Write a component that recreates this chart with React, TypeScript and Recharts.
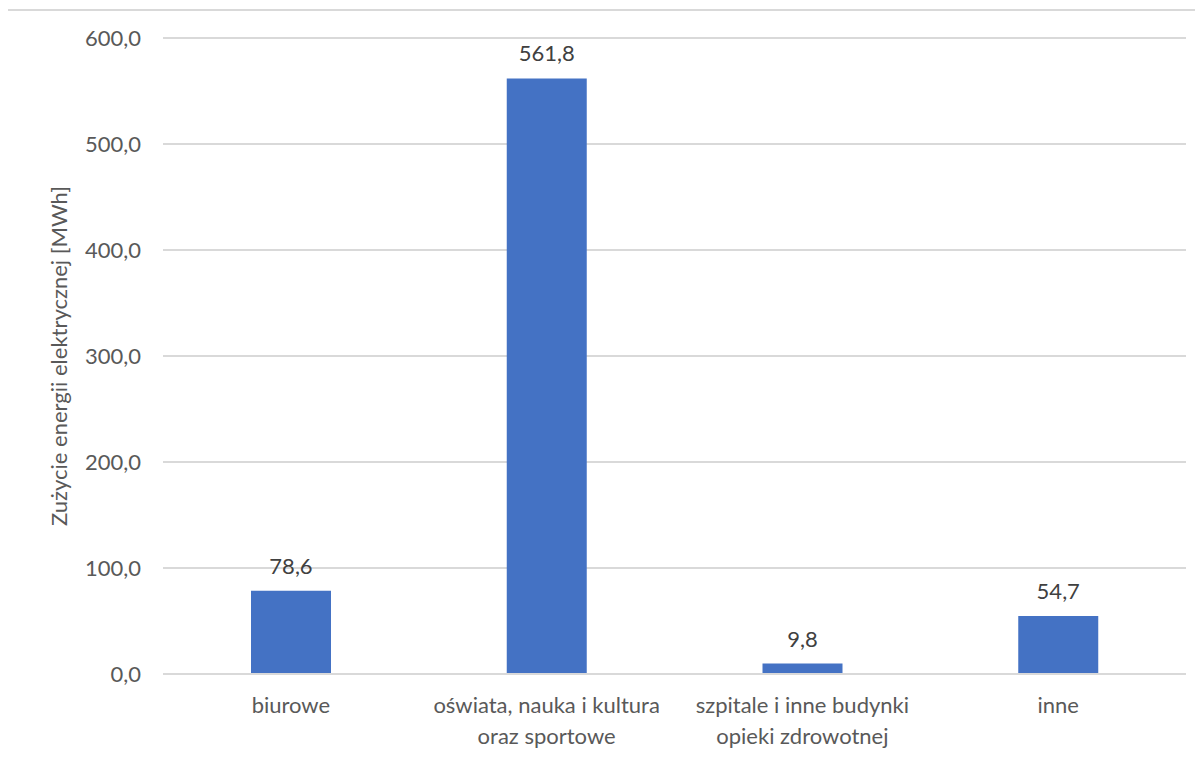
import React from "react";
import { BarChart, Bar, XAxis, YAxis, CartesianGrid, LabelList } from "recharts";

const categories = [
  "biurowe",
  "oświata, nauka i kultura oraz sportowe",
  "szpitale i inne budynki opieki zdrowotnej",
  "inne",
];
const categoryLines: string[][] = [
  ["biurowe"],
  ["oświata, nauka i kultura", "oraz sportowe"],
  ["szpitale i inne budynki", "opieki zdrowotnej"],
  ["inne"],
];
const values = [78.6, 561.8, 9.8, 54.7];
const yTicks = [0, 100, 200, 300, 400, 500, 600];
const yAxisTitle = "Zużycie energii elektrycznej [MWh]";

const data = categories.map((c, i) => ({ name: c, value: values[i], idx: i }));

const FONT = "Lato, 'Open Sans', sans-serif";
const FS = 22;
const fmt = (v: number) => v.toFixed(1).replace(".", ",");

const YTick = (props: any) => {
  const { x, y, payload } = props;
  return (
    <text x={x - 14} y={y} dy="0.35em" textAnchor="end" fontSize={FS} fill="#595959" fontFamily={FONT}>
      {fmt(payload.value)}
    </text>
  );
};

const XTick = (props: any) => {
  const { x, y, index } = props;
  const lines = categoryLines[index] || [];
  return (
    <g>
      {lines.map((l, i) => (
        <text key={i} x={x} y={y + 31 + i * 31} dy="0" textAnchor="middle" fontSize={FS} fill="#595959" fontFamily={FONT}>
          {l}
        </text>
      ))}
    </g>
  );
};

export default function App() {
  return (
    <div style={{ position: "relative", margin: -8, width: 1203, height: 760, overflow: "hidden", background: "#fff" }}>
      <div style={{ position: "absolute", left: 6, top: 9, width: 1300, height: 900, border: "2px solid #d9d9d9", boxSizing: "border-box" }} />
      <div style={{ position: "absolute", left: 0, top: 0 }}>
        <BarChart width={1203} height={760} data={data} margin={{ top: 38, right: 17, bottom: 0, left: 0 }} barSize={80}>
          <CartesianGrid vertical={false} stroke="#d9d9d9" strokeWidth={2} />
          <XAxis dataKey="name" height={86} tick={<XTick />} tickLine={false} axisLine={{ stroke: "#d9d9d9", strokeWidth: 2 }} interval={0} />
          <YAxis
            width={163}
            domain={[0, 600]}
            ticks={yTicks}
            tick={<YTick />}
            tickLine={false}
            axisLine={false}
            label={{ value: yAxisTitle, angle: -90, position: "insideLeft", dx: 54, dy: 0, style: { textAnchor: "middle", fontSize: FS, fill: "#595959", fontFamily: FONT } } as any}
          />
          <Bar dataKey="value" fill="#4472C4" isAnimationActive={false}>
            <LabelList dataKey="value" position="top" offset={17} formatter={(v: any) => fmt(Number(v))} style={{ fontSize: FS, fill: "#404040", fontFamily: FONT }} />
          </Bar>
        </BarChart>
      </div>
    </div>
  );
}
